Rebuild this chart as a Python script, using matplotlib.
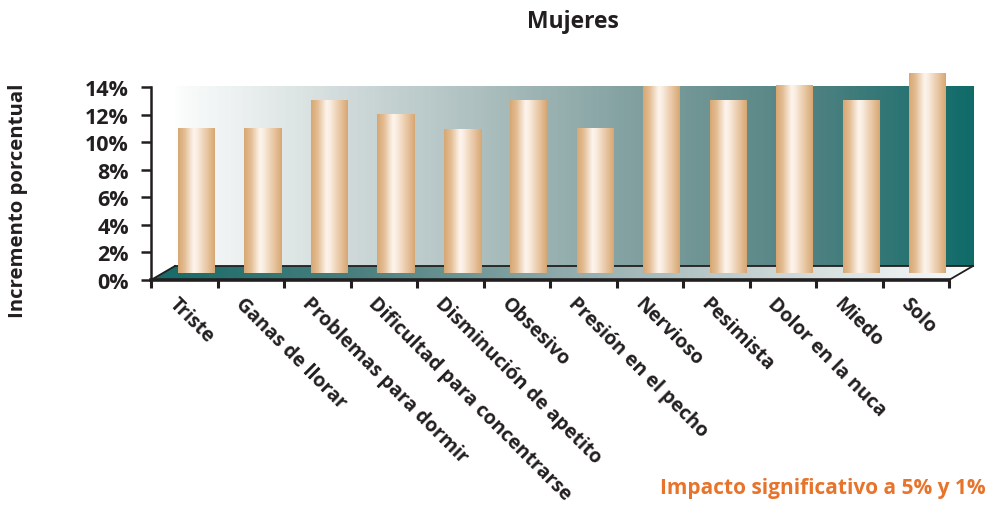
import numpy as np
import matplotlib
matplotlib.use("Agg")
import matplotlib.pyplot as plt
from matplotlib.colors import LinearSegmentedColormap
from matplotlib.patches import Polygon

plt.rcParams['font.family'] = ['Open Sans', 'DejaVu Sans']
plt.rcParams['font.weight'] = 'bold'

# data
categories = ['Triste', 'Ganas de llorar', 'Problemas para dormir',
              'Dificultad para concentrarse', 'Disminución de apetito',
              'Obsesivo', 'Presión en el pecho', 'Nervioso', 'Pesimista',
              'Dolor en la nuca', 'Miedo', 'Solo']
values = [11, 11, 13, 12, 10.9, 13, 11, 14, 13, 14.1, 13, 15]
yticks = [0, 2, 4, 6, 8, 10, 12, 14]
ytick_labels = ['0%', '2%', '4%', '6%', '8%', '10%', '12%', '14%']

W, H = 988, 506
fig = plt.figure(figsize=(W / 100, H / 100), dpi=100)

# axes placed in pixels: x axis from 151 px, 0% at y=281 px
px_per_cat = 66.5
px_per_pct = 13.79
left_px, zero_px = 151, 281
ax_w = W - left_px
ylim_top = 16.2
ax_h = ylim_top * px_per_pct
ax = fig.add_axes([left_px / W, (H - zero_px) / H, ax_w / W, ax_h / H])
ax.set_xlim(-0.5, -0.5 + ax_w / px_per_cat)
ax.set_ylim(0, ylim_top)

# pseudo 3D depth offset
dx = 24 / px_per_cat
dy = 14 / px_per_pct
x0, x1 = -0.5, len(categories) - 0.5
ink = '#231f20'

# back wall
wall_cmap = LinearSegmentedColormap.from_list(
    'wall', ['#fcfdfd', '#d3dcdc', '#a9bcbc', '#7c9c9c', '#4f8181', '#0f6b69'])
grad = np.linspace(0, 1, 256).reshape(1, -1)
ax.imshow(grad, cmap=wall_cmap, aspect='auto',
          extent=(x0 + dx, x1 + dx, dy, 14), zorder=1)

# floor
floor_cmap = LinearSegmentedColormap.from_list(
    'floor', ['#146a67', '#4a807f', '#8faaab', '#c9d4d4', '#fbfcfc'])
floor = Polygon([(x0, 0), (x1, 0), (x1 + dx, dy), (x0 + dx, dy)],
                closed=True, facecolor='none', edgecolor='none')
ax.add_patch(floor)
im = ax.imshow(grad, cmap=floor_cmap, aspect='auto',
               extent=(x0, x1 + dx, 0, dy), zorder=2)
im.set_clip_path(floor)
ax.plot([x0 + dx, x1 + dx], [dy, dy], color=ink, lw=1.3, zorder=3)
ax.plot([x0, x0 + dx], [0, dy], color=ink, lw=1.3, zorder=3)
ax.plot([x1, x1 + dx], [0, dy], color=ink, lw=1.3, zorder=3)

# bars as cylinders
bar_cmap = LinearSegmentedColormap.from_list(
    'bar', [(0, '#d8a772'), (0.18, '#e3bd93'), (0.42, '#fdf4ec'),
            (0.5, '#fbefe4'), (0.78, '#e8c7a4'), (1, '#d8a772')])
xs = np.arange(len(categories)) + dx / 2
bw = 37 / px_per_cat
bars = ax.bar(xs, [v - dy / 2 for v in values], bottom=dy / 2, width=bw,
              color='none', edgecolor='none', zorder=4)
for b in bars:
    bx, by = b.get_x(), b.get_y()
    ax.imshow(grad, cmap=bar_cmap, aspect='auto', zorder=5,
              extent=(bx, bx + b.get_width(), by, by + b.get_height()))
ax.set_xlim(-0.5, -0.5 + ax_w / px_per_cat)
ax.set_ylim(0, ylim_top)

# axes lines and ticks
for s in ['top', 'right']:
    ax.spines[s].set_visible(False)
ax.spines['left'].set_bounds(0, 14)
ax.spines['left'].set_linewidth(1.8)
ax.spines['left'].set_color(ink)
ax.spines['bottom'].set_bounds(x0, x1)
ax.spines['bottom'].set_linewidth(2.6)
ax.spines['bottom'].set_color(ink)
ax.spines['left'].set_zorder(6)
ax.spines['bottom'].set_zorder(6)
ax.set_yticks(yticks)
ax.set_yticklabels(ytick_labels, fontsize=15.5, fontweight='bold', color=ink)
ax.tick_params(axis='y', length=7, width=1.8, color=ink, pad=9)
ax.set_xticks(np.arange(x0, x1 + 0.01, 1))
ax.set_xticklabels([])
ax.tick_params(axis='x', length=6, width=2.2, color=ink)

for i, c in enumerate(categories):
    ax.text(i - 0.08, -0.95, c, rotation=-45, rotation_mode='anchor',
            ha='left', va='top', fontsize=14.0, fontweight='bold',
            color=ink, clip_on=False)

fig.text(573 / W, 1 - 22 / H, 'Mujeres', ha='center', va='center',
         fontsize=16.5, fontweight='bold', color=ink)
fig.text(18 / W, 1 - 201 / H, 'Incremento porcentual', rotation=90,
         ha='center', va='center', fontsize=14.7, fontweight='bold', color=ink)
fig.text(986 / W, 1 - 489 / H, 'Impacto significativo a 5% y 1%',
         ha='right', va='center', fontsize=15, fontweight='bold',
         color='#e8732a')

fig.savefig('out.png', dpi=100)
